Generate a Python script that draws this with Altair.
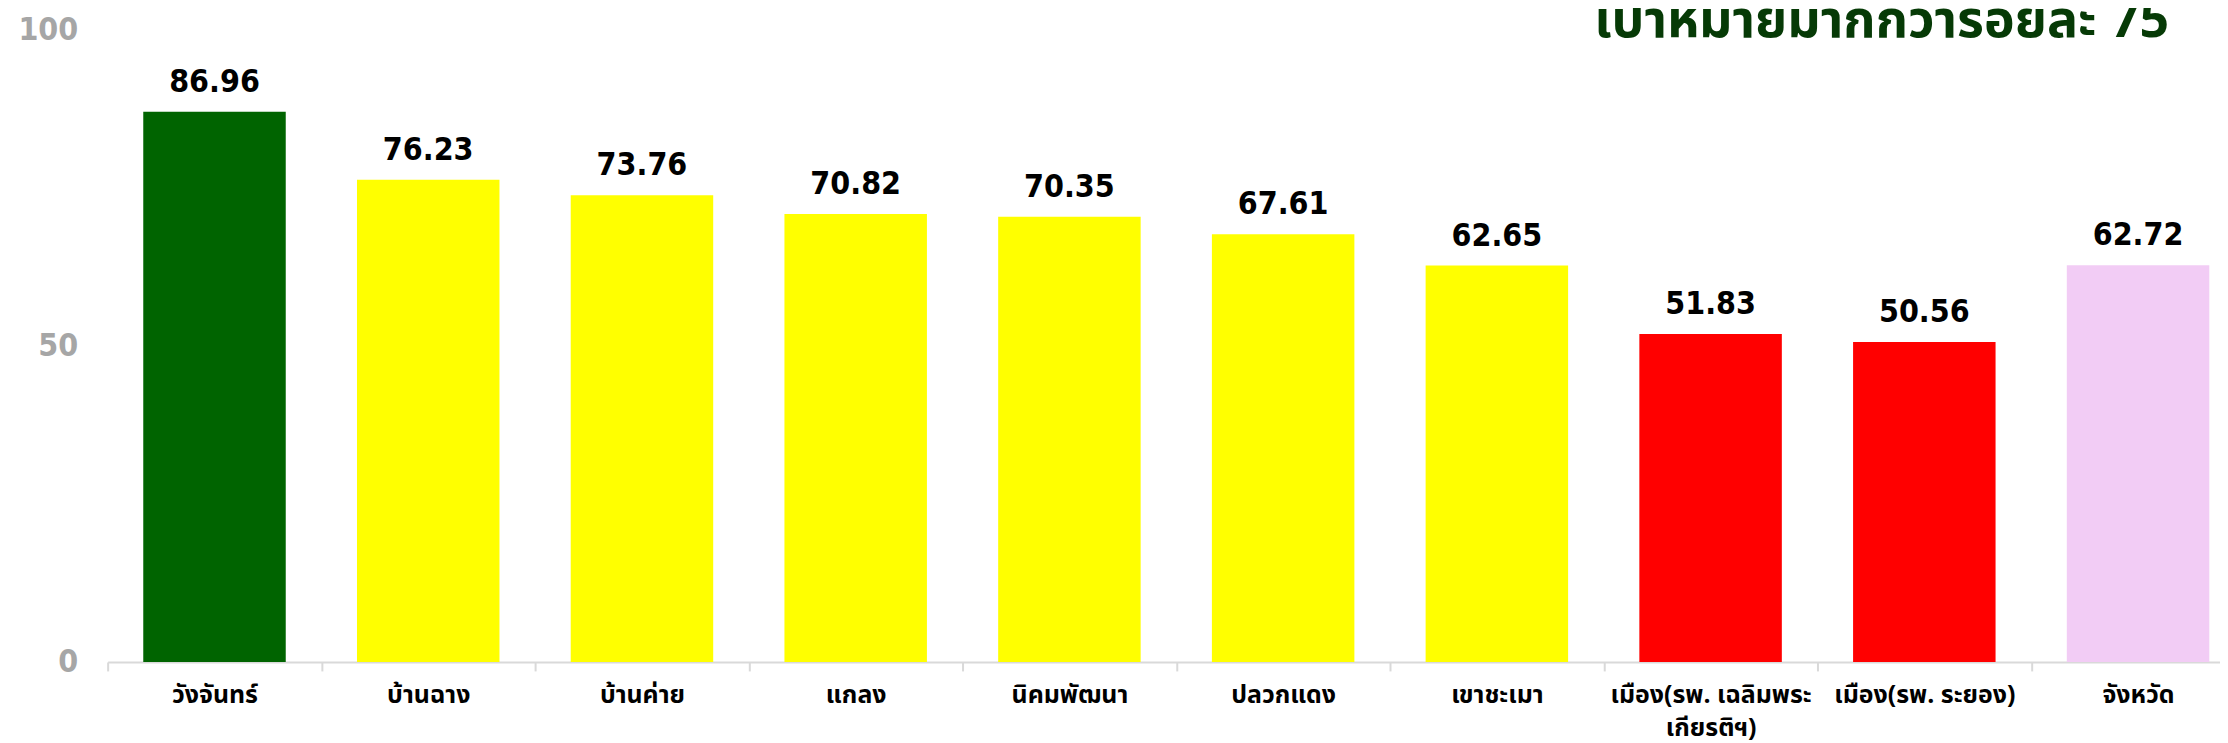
import altair as alt
import pandas as pd

categories = [
    "วังจันทร์", "บ้านฉาง", "บ้านค่าย", "แกลง", "นิคมพัฒนา",
    "ปลวกแดง", "เขาชะเมา", "เมือง(รพ. เฉลิมพระ|เกียรติฯ)",
    "เมือง(รพ. ระยอง)", "จังหวัด",
]
values = [86.96, 76.23, 73.76, 70.82, 70.35, 67.61, 62.65, 51.83, 50.56, 62.72]
colors = ["#006400", "#ffff00", "#ffff00", "#ffff00", "#ffff00",
          "#ffff00", "#ffff00", "#ff0000", "#ff0000", "#f2ccf5"]
y_ticks = [0, 50, 100]
title_text = "เป้าหมายมากกว่าร้อยละ 75"

df = pd.DataFrame({"cat": categories, "val": values, "color": colors})
df["label"] = df["val"].map(lambda v: f"{v:.2f}")
title_df = pd.DataFrame({"t": [title_text]})

NUM_FONT = "DejaVu Sans Condensed, DejaVu Sans"
THAI_FONT = "Tahoma, Noto Sans Thai, Loma, Garuda, DejaVu Sans"

STEP = 214.5

x = alt.X(
    "cat:N",
    sort=categories,
    title=None,
    scale=alt.Scale(range=[0, STEP * len(categories)], paddingInner=1/3, paddingOuter=1/6),
    axis=alt.Axis(
        labelExpr="split(datum.value, '|')",
        labelAngle=0,
        labelFont=THAI_FONT,
        labelFontSize=25,
        labelFontWeight="bold",
        labelColor="#000000",
        labelPadding=12,
        labelLineHeight=33,
        labelBaseline="top",
        tickOffset=-STEP / 2,
        labelOffset=STEP / 2,
        tickSize=9,
        tickColor="#d9d9d9",
        tickWidth=2,
        domainColor="#d9d9d9",
        domainWidth=2,
        labelLimit=400,
        grid=False,
    ),
)

y = alt.Y(
    "val:Q",
    title=None,
    scale=alt.Scale(domain=[0, 100], nice=False),
    axis=alt.Axis(
        values=y_ticks,
        grid=False,
        ticks=False,
        domain=False,
        labelFont=NUM_FONT,
        labelFontSize=32,
        labelFontWeight="bold",
        labelColor="#a6a6a6",
        labelPadding=30,
    ),
)

base = alt.Chart(df)

bars = base.mark_bar().encode(
    x=x,
    y=y,
    color=alt.Color("color:N", scale=None),
)

labels = base.mark_text(
    font=NUM_FONT,
    fontSize=32,
    fontWeight="bold",
    color="#000000",
    baseline="middle",
    dy=-30,
).encode(
    x=alt.X("cat:N", sort=categories),
    y=alt.Y("val:Q"),
    text="label:N",
)

title = alt.Chart(title_df).mark_text(
    font=THAI_FONT,
    fontSize=52,
    fontWeight="bold",
    color="#063a06",
    align="right",
    baseline="alphabetic",
).encode(
    x=alt.value(2069),
    y=alt.value(8),
    text="t:N",
)

chart = (
    alt.layer(bars, labels, title)
    .properties(
        width=2120,
        height=635,
        padding={"left": 100, "top": 20, "right": 0, "bottom": 80},
        autosize=alt.AutoSizeParams(type="none"),
        background="#ffffff",
    )
    .configure_view(strokeWidth=0, stroke="transparent")
    .configure_axis(grid=False)
)

chart.save("out.html", embed_options={"renderer": "svg", "actions": False})
